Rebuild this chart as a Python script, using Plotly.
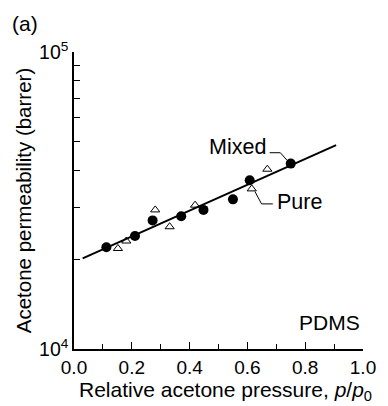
import math
import plotly.graph_objects as go

# Data
mixed_x = [0.112, 0.211, 0.272, 0.371, 0.448, 0.550, 0.608, 0.750]
mixed_y = [22000, 24000, 27100, 28000, 29400, 31900, 37000, 42100]

pure_x = [0.152, 0.181, 0.281, 0.331, 0.419, 0.615, 0.669]
pure_y = [21800, 23100, 29400, 25800, 30500, 34600, 40300]

fit_x = [0.03, 0.907]
fit_y = [20200, 48600]

x_ticks = [0.0, 0.2, 0.4, 0.6, 0.8, 1.0]
x_ticktext = ["0.0", "0.2", "0.4", "0.6", "0.8", "1.0"]
y_ticks = [1e4, 1e5]
y_ticktext = ["10<sup>4</sup>", "10<sup>5</sup>"]
y_minor = [2e4, 3e4, 4e4, 5e4, 6e4, 7e4, 8e4, 9e4]

FONT = "Liberation Sans, Arial, Helvetica, sans-serif"

fig = go.Figure()

fig.add_trace(go.Scatter(x=fit_x, y=fit_y, mode="lines",
                         line=dict(color="black", width=2), hoverinfo="skip"))
fig.add_trace(go.Scatter(x=pure_x, y=pure_y, mode="markers",
                         marker=dict(symbol="triangle-up-open", size=8, color="black",
                                     line=dict(width=1, color="black"))))
fig.add_trace(go.Scatter(x=mixed_x, y=mixed_y, mode="markers",
                         marker=dict(symbol="circle", size=10, color="black")))

# leader lines for labels
leader_mixed = ([0.677, 0.714, 0.738], [45800, 45800, 43100])
leader_pure = ([0.626, 0.649, 0.688], [33900, 30800, 30800])
for lx, ly in (leader_mixed, leader_pure):
    fig.add_trace(go.Scatter(x=lx, y=ly, mode="lines",
                             line=dict(color="black", width=1), hoverinfo="skip"))

fig.update_layout(
    width=388, height=406,
    margin=dict(l=74, r=17, t=52, b=57),
    paper_bgcolor="white", plot_bgcolor="white",
    showlegend=False,
    font=dict(family=FONT, size=20, color="black"),
    xaxis=dict(
        range=[0, 1], tickvals=x_ticks, ticktext=x_ticktext,
        ticks="inside", ticklen=7, tickwidth=1.2, tickcolor="black",
        showline=True, linecolor="black", linewidth=1.5,
        showgrid=False, zeroline=False,
        tickfont=dict(size=19),
        minor=dict(tickvals=[0.1, 0.3, 0.5, 0.7, 0.9], ticks="inside", ticklen=5,
                   tickwidth=1.2, tickcolor="black", showgrid=False),
    ),
    yaxis=dict(
        type="log", range=[4, 5], tickvals=y_ticks, ticktext=y_ticktext,
        ticks="inside", ticklen=8, tickwidth=1.2, tickcolor="black",
        showline=True, linecolor="black", linewidth=1.5,
        showgrid=False, zeroline=False,
        tickfont=dict(size=19.5),
        minor=dict(tickvals=y_minor, ticks="inside", ticklen=6,
                   tickwidth=1.2, tickcolor="black", showgrid=False),
        title=dict(text="Acetone permeability (barrer)", font=dict(size=20.5), standoff=2),
    ),
    annotations=[
        dict(text="Relative acetone pressure, <i>p</i>/<i>p</i><sub>0</sub>",
             xref="paper", yref="paper", x=0.524, y=-0.142,
             xanchor="center", yanchor="middle", showarrow=False, font=dict(size=21)),
        dict(text="(a)", xref="paper", yref="paper", x=-0.22, y=1.097,
             xanchor="left", yanchor="middle", showarrow=False, font=dict(size=21)),
        dict(text="PDMS", xref="paper", yref="paper", x=0.995, y=0.09,
             xanchor="right", yanchor="middle", showarrow=False, font=dict(size=21)),
        dict(text="Mixed", xref="x", yref="y", x=0.671, y=math.log10(47800),
             xanchor="right", yanchor="middle", showarrow=False, font=dict(size=21.5)),
        dict(text="Pure", xref="x", yref="y", x=0.694, y=math.log10(31300),
             xanchor="left", yanchor="middle", showarrow=False, font=dict(size=21.5)),
    ],
)

fig.write_html("out.html")
